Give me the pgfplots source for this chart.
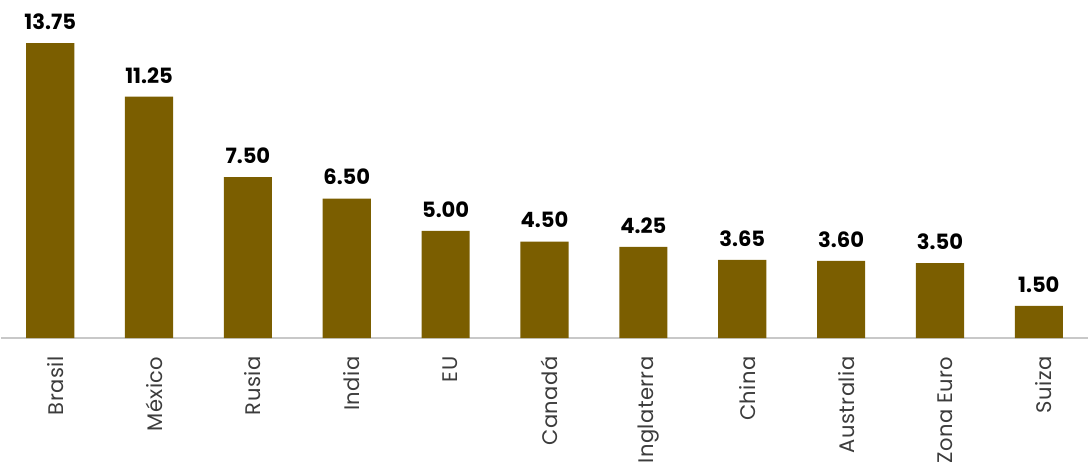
\documentclass[border=0pt]{standalone}
\usepackage{pgfplots}
\pgfplotsset{compat=1.18}
\usepackage{fontspec}
\setmainfont{Poppins}
\definecolor{barc}{RGB}{123,94,0}
\definecolor{labc}{RGB}{60,60,60}
\definecolor{axc}{RGB}{200,200,200}
\begin{document}
\begin{tikzpicture}
\begin{axis}[
  scale only axis,
  width=1084pt, height=337pt,
  xmin=-0.5, xmax=10.5, ymin=0, ymax=15.76,
  axis x line*=bottom,
  axis y line=none,
  x axis line style={axc, line width=1.5pt, -},
  xtick=data,
  xticklabels={Brasil,México,Rusia,India,EU,Canadá,Inglaterra,China,Australia,Zona Euro,Suiza},
  xtick style={draw=none},
  xticklabel shift=14pt,
  xticklabel style={rotate=90, anchor=east, yshift=-5pt, font=\fontsize{21pt}{23pt}\selectfont\addfontfeatures{LetterSpace=2}, text=labc, inner sep=0pt},
  ybar, bar width=48pt,
  nodes near coords={\pgfmathprintnumber[fixed, fixed zerofill, precision=2]{\pgfplotspointmeta}},
  nodes near coords style={font=\bfseries\fontsize{21pt}{23pt}\selectfont, text=black, yshift=10pt},
  /pgf/number format/assume math mode=true,
  clip=false,
]
\addplot[fill=barc, draw=none] coordinates {
(0,13.75) (1,11.25) (2,7.50) (3,6.50) (4,5.00) (5,4.50) (6,4.25) (7,3.65) (8,3.60) (9,3.50) (10,1.50)};
\path (rel axis cs:0,1) -- (rel axis cs:1,1);
\end{axis}
\end{tikzpicture}
\end{document}
